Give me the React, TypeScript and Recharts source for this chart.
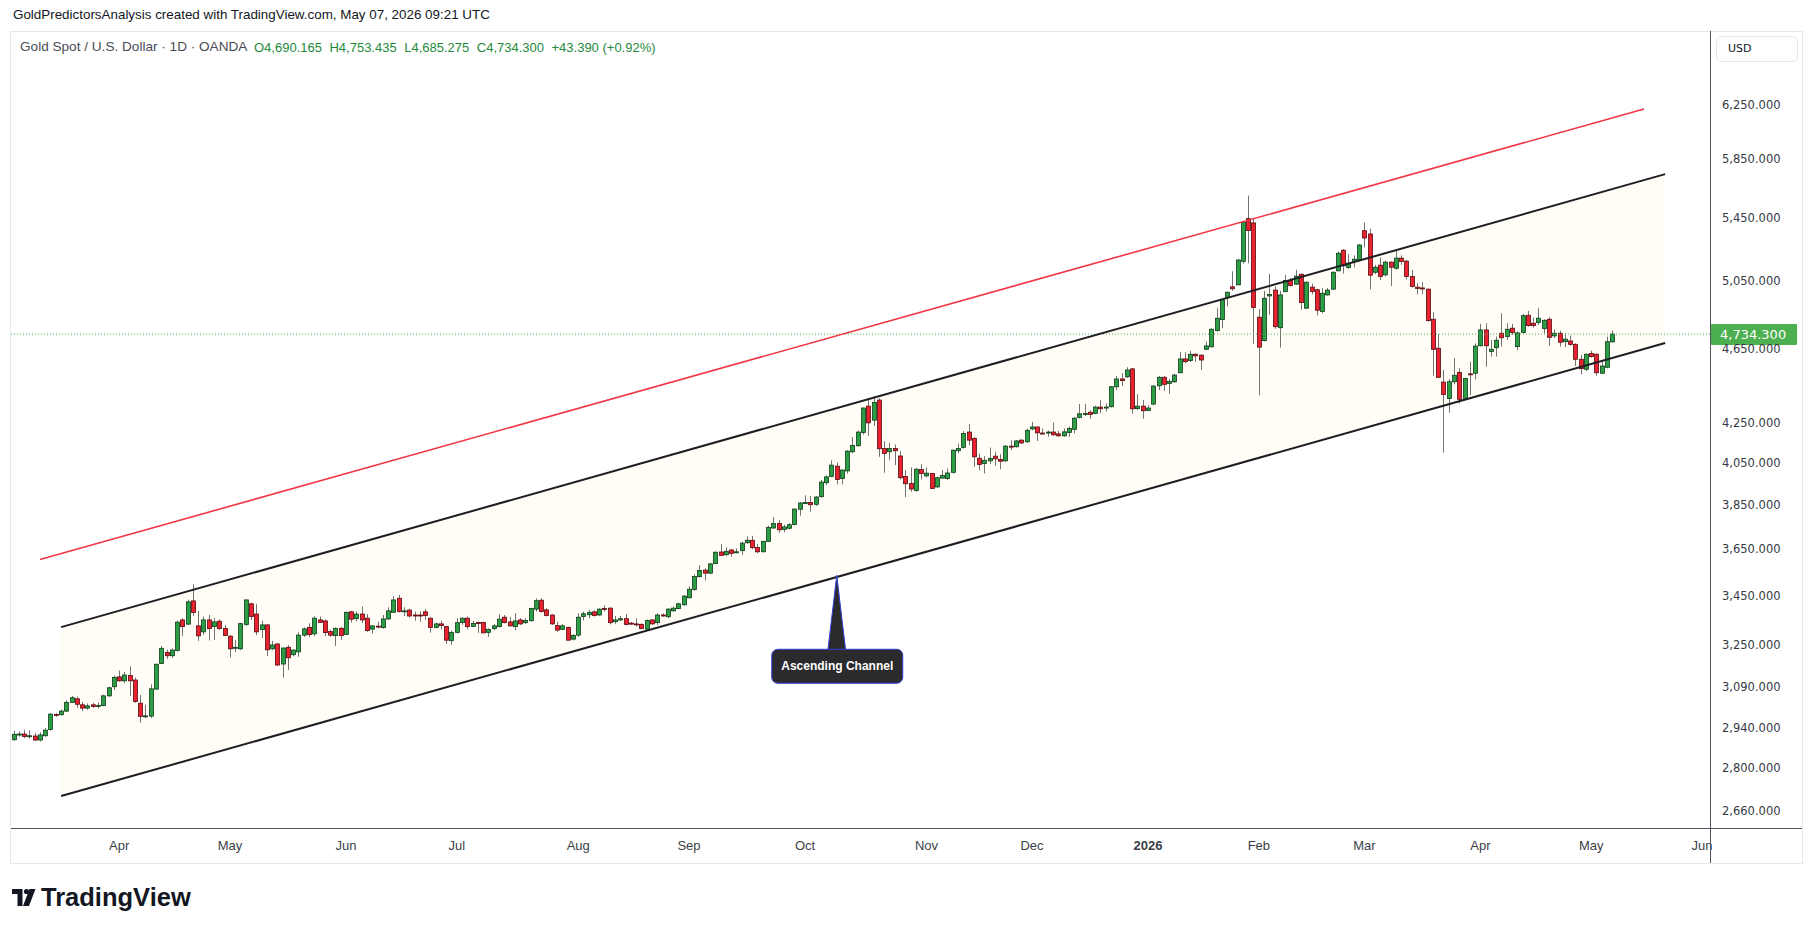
import { ComposedChart, Bar, Area, XAxis, YAxis, ReferenceLine, ReferenceDot } from "recharts"

// [day, open, high, low, close]
type Row = [number, number, number, number, number]

const mar2025: Row[] = [
  [4, 2898, 2929, 2894, 2917], [5, 2916, 2927, 2909, 2918], [6, 2918, 2933, 2903, 2909], [7, 2910, 2931, 2902, 2912],
  [10, 2911, 2922, 2893, 2897], [11, 2897, 2924, 2892, 2915], [12, 2912, 2939, 2908, 2932], [13, 2934, 2993, 2930, 2989],
  [14, 2988, 2993, 2980, 2986], [17, 2987, 3006, 2984, 3000], [18, 3000, 3040, 2997, 3032], [19, 3032, 3056, 3030, 3049],
  [20, 3045, 3053, 3012, 3025], [21, 3023, 3034, 3000, 3011], [24, 3011, 3028, 3005, 3019], [25, 3023, 3030, 3012, 3017],
  [26, 3018, 3032, 3010, 3021], [27, 3020, 3060, 3018, 3056], [28, 3056, 3090, 3052, 3086], [31, 3090, 3132, 3078, 3125],
]
const apr2025: Row[] = [
  [1, 3127, 3151, 3108, 3112], [2, 3112, 3146, 3103, 3134], [3, 3132, 3167, 3056, 3112], [4, 3115, 3124, 3030, 3035],
  [7, 3029, 3059, 2958, 2981], [8, 2981, 3023, 2975, 2983], [9, 2982, 3099, 2975, 3082], [10, 3081, 3178, 3079, 3175],
  [11, 3178, 3246, 3176, 3237], [14, 3221, 3232, 3196, 3208], [15, 3208, 3236, 3200, 3230], [16, 3229, 3348, 3224, 3341],
  [17, 3350, 3357, 3285, 3323], [21, 3333, 3433, 3330, 3424], [22, 3428, 3498, 3366, 3380], [23, 3326, 3387, 3266, 3286],
  [24, 3302, 3364, 3290, 3350], [25, 3350, 3370, 3268, 3315], [28, 3323, 3357, 3270, 3342], [29, 3345, 3352, 3310, 3315],
  [30, 3316, 3330, 3285, 3288],
]
const may2025: Row[] = [
  [1, 3285, 3288, 3201, 3235], [2, 3238, 3270, 3223, 3241], [5, 3235, 3338, 3230, 3335], [6, 3332, 3435, 3326, 3432],
  [7, 3416, 3421, 3350, 3364], [8, 3374, 3416, 3289, 3302], [9, 3311, 3346, 3277, 3330], [12, 3330, 3332, 3207, 3231],
  [13, 3235, 3266, 3230, 3250], [14, 3254, 3256, 3170, 3172], [15, 3176, 3241, 3124, 3238], [16, 3241, 3250, 3153, 3200],
  [19, 3212, 3233, 3205, 3230], [20, 3223, 3300, 3204, 3289], [21, 3289, 3320, 3282, 3314], [22, 3320, 3336, 3281, 3291],
  [23, 3294, 3365, 3285, 3357], [26, 3350, 3364, 3340, 3340], [27, 3346, 3352, 3285, 3299], [28, 3303, 3310, 3282, 3289],
  [29, 3287, 3320, 3246, 3316], [30, 3316, 3322, 3270, 3287],
]
const jun2025: Row[] = [
  [2, 3292, 3384, 3290, 3381], [3, 3383, 3387, 3339, 3353], [4, 3355, 3385, 3344, 3374], [5, 3374, 3405, 3337, 3350],
  [6, 3357, 3374, 3302, 3307], [9, 3313, 3330, 3296, 3326], [10, 3325, 3343, 3316, 3323], [11, 3319, 3370, 3315, 3354],
  [12, 3354, 3402, 3350, 3387], [13, 3381, 3448, 3380, 3432], [16, 3439, 3453, 3380, 3384], [17, 3384, 3402, 3366, 3387],
  [18, 3390, 3396, 3360, 3366], [19, 3370, 3384, 3347, 3369], [20, 3370, 3385, 3343, 3368], [23, 3383, 3394, 3350, 3368],
  [24, 3357, 3361, 3299, 3320], [25, 3320, 3339, 3316, 3334], [26, 3334, 3347, 3312, 3327], [27, 3323, 3326, 3254, 3269],
  [30, 3267, 3307, 3250, 3300],
]
const jul2025: Row[] = [
  [1, 3300, 3357, 3296, 3339], [2, 3339, 3360, 3330, 3357], [3, 3357, 3364, 3312, 3323], [4, 3324, 3346, 3322, 3336],
  [7, 3340, 3343, 3298, 3336], [8, 3340, 3343, 3296, 3298], [9, 3300, 3316, 3282, 3312], [10, 3315, 3333, 3309, 3326],
  [11, 3323, 3373, 3320, 3353], [14, 3361, 3370, 3336, 3339], [15, 3342, 3361, 3323, 3326], [16, 3323, 3378, 3309, 3346],
  [17, 3350, 3357, 3330, 3334], [18, 3339, 3357, 3334, 3348], [21, 3347, 3400, 3343, 3397], [22, 3394, 3439, 3384, 3429],
  [23, 3431, 3439, 3380, 3384], [24, 3391, 3398, 3364, 3368], [25, 3370, 3373, 3330, 3334], [28, 3327, 3343, 3302, 3309],
  [29, 3312, 3333, 3309, 3326], [30, 3320, 3323, 3268, 3269], [31, 3273, 3292, 3268, 3288],
]
const aug2025: Row[] = [
  [1, 3289, 3377, 3282, 3361], [4, 3364, 3384, 3348, 3375], [5, 3371, 3391, 3357, 3381], [6, 3383, 3389, 3364, 3368],
  [7, 3370, 3397, 3367, 3394], [8, 3397, 3410, 3384, 3395], [11, 3398, 3402, 3332, 3339], [12, 3343, 3366, 3334, 3350],
  [13, 3350, 3366, 3346, 3355], [14, 3355, 3374, 3328, 3332], [15, 3337, 3342, 3330, 3336], [18, 3334, 3357, 3323, 3333],
  [19, 3332, 3336, 3312, 3315], [20, 3313, 3352, 3309, 3348], [21, 3350, 3353, 3330, 3334], [22, 3339, 3377, 3330, 3370],
  [25, 3370, 3377, 3363, 3368], [26, 3363, 3398, 3357, 3394], [27, 3387, 3405, 3383, 3398], [28, 3396, 3421, 3394, 3416],
  [29, 3412, 3453, 3408, 3448],
]
const sep2025: Row[] = [
  [1, 3441, 3490, 3438, 3477], [2, 3476, 3540, 3470, 3531], [3, 3530, 3580, 3527, 3557], [4, 3558, 3566, 3514, 3545],
  [5, 3545, 3590, 3542, 3585], [8, 3586, 3639, 3585, 3636], [9, 3637, 3672, 3620, 3622], [10, 3625, 3658, 3620, 3640],
  [11, 3646, 3649, 3616, 3631], [12, 3636, 3653, 3631, 3638], [15, 3643, 3683, 3624, 3676], [16, 3678, 3706, 3673, 3689],
  [17, 3689, 3709, 3649, 3656], [18, 3657, 3673, 3631, 3638], [19, 3638, 3687, 3635, 3684], [22, 3684, 3754, 3681, 3747],
  [23, 3744, 3794, 3741, 3765], [24, 3765, 3780, 3722, 3736], [25, 3738, 3759, 3725, 3749], [26, 3743, 3767, 3738, 3759],
  [29, 3760, 3834, 3757, 3831], [30, 3830, 3864, 3800, 3859],
]
const oct2025: Row[] = [
  [1, 3858, 3895, 3855, 3861], [2, 3862, 3892, 3819, 3851], [3, 3853, 3892, 3846, 3887], [6, 3889, 3968, 3884, 3958],
  [7, 3955, 3990, 3943, 3983], [8, 3985, 4064, 3982, 4040], [9, 4035, 4053, 3947, 3971], [10, 3975, 4020, 3947, 4016],
  [13, 4012, 4114, 3999, 4109], [14, 4106, 4180, 4098, 4138], [15, 4136, 4213, 4131, 4205], [16, 4203, 4332, 4193, 4329],
  [17, 4339, 4379, 4186, 4252], [20, 4266, 4390, 4236, 4359], [21, 4371, 4381, 4081, 4121], [22, 4122, 4159, 4003, 4097],
  [23, 4106, 4152, 4064, 4122], [24, 4122, 4142, 4040, 4111], [27, 4085, 4109, 3971, 3979], [28, 3985, 4016, 3887, 3950],
  [29, 3951, 4029, 3912, 3925], [30, 3918, 4027, 3912, 4020], [31, 4019, 4045, 3971, 3999],
]
const nov2025: Row[] = [
  [3, 3988, 4028, 3980, 4001], [4, 4000, 4002, 3925, 3928], [5, 3935, 3983, 3930, 3979], [6, 3977, 4016, 3975, 3990],
  [7, 3975, 4024, 3967, 4002], [10, 4005, 4117, 4000, 4114], [11, 4111, 4147, 4098, 4122], [12, 4128, 4210, 4122, 4198],
  [13, 4205, 4247, 4138, 4164], [14, 4173, 4180, 4032, 4081], [17, 4074, 4097, 4015, 4043], [18, 4048, 4084, 4000, 4064],
  [19, 4061, 4127, 4045, 4073], [20, 4084, 4106, 4037, 4071], [21, 4068, 4094, 4020, 4059], [24, 4061, 4139, 4056, 4134],
  [25, 4134, 4164, 4114, 4131], [26, 4131, 4164, 4127, 4160], [27, 4164, 4169, 4144, 4150], [28, 4156, 4223, 4150, 4214],
]
const dec2025: Row[] = [
  [1, 4221, 4257, 4214, 4231], [2, 4231, 4233, 4160, 4201], [3, 4200, 4223, 4194, 4199], [4, 4202, 4213, 4181, 4205],
  [5, 4205, 4254, 4186, 4191], [8, 4196, 4211, 4181, 4186], [9, 4186, 4223, 4181, 4206], [10, 4203, 4234, 4181, 4223],
  [11, 4219, 4283, 4198, 4276], [12, 4280, 4350, 4275, 4299], [15, 4299, 4350, 4287, 4301], [16, 4307, 4318, 4273, 4296],
  [17, 4301, 4341, 4297, 4334], [18, 4334, 4371, 4301, 4325], [19, 4331, 4353, 4311, 4334], [22, 4336, 4446, 4332, 4442],
  [23, 4442, 4500, 4424, 4484], [24, 4484, 4516, 4446, 4475], [26, 4496, 4548, 4490, 4533], [29, 4539, 4544, 4299, 4325],
  [30, 4326, 4402, 4318, 4339], [31, 4339, 4371, 4273, 4315],
]
const jan2026: Row[] = [
  [2, 4316, 4344, 4313, 4329], [5, 4350, 4450, 4343, 4446], [6, 4447, 4500, 4424, 4493], [7, 4493, 4500, 4420, 4455],
  [8, 4460, 4484, 4404, 4471], [9, 4469, 4513, 4462, 4505], [12, 4518, 4633, 4515, 4594], [13, 4594, 4631, 4570, 4579],
  [14, 4585, 4639, 4577, 4620], [15, 4620, 4626, 4579, 4611], [16, 4615, 4620, 4533, 4588], [19, 4648, 4692, 4644, 4667],
  [20, 4662, 4768, 4658, 4762], [21, 4754, 4885, 4749, 4826], [22, 4818, 4938, 4768, 4934], [23, 4948, 4984, 4895, 4980],
  [26, 5013, 5108, 4988, 5001], [27, 5025, 5186, 5021, 5178], [28, 5170, 5422, 5154, 5418], [29, 5444, 5598, 5158, 5366],
  [30, 5416, 5449, 4678, 4889],
]
const feb2026: Row[] = [
  [2, 4832, 4880, 4397, 4660], [3, 4697, 4988, 4692, 4944], [4, 4958, 5092, 4846, 4966], [5, 4993, 5015, 4764, 4777],
  [6, 4771, 4988, 4657, 4964], [9, 4984, 5086, 4980, 5051], [10, 5051, 5066, 5015, 5021], [11, 5029, 5117, 5025, 5078],
  [12, 5090, 5094, 4876, 4918], [13, 4885, 5045, 4881, 5041], [16, 5011, 5031, 4968, 4984], [17, 4995, 5001, 4842, 4873],
  [18, 4865, 5005, 4855, 4974], [19, 4964, 5005, 4960, 4993], [20, 4999, 5107, 4993, 5102], [23, 5111, 5232, 5107, 5221],
  [24, 5240, 5247, 5094, 5142], [25, 5131, 5215, 5123, 5158], [26, 5169, 5207, 5131, 5183], [27, 5177, 5279, 5169, 5273],
]
const mar2026: Row[] = [
  [2, 5365, 5418, 5258, 5318], [3, 5344, 5379, 4997, 5084], [4, 5102, 5148, 5090, 5133], [5, 5146, 5194, 5053, 5076],
  [6, 5086, 5174, 5076, 5165], [9, 5165, 5169, 5017, 5133], [10, 5127, 5243, 5117, 5190], [11, 5190, 5207, 5148, 5169],
  [12, 5171, 5179, 5058, 5076], [13, 5076, 5117, 5009, 5015], [16, 5011, 5035, 4968, 5003], [17, 5006, 5041, 4968, 5003],
  [18, 4999, 5001, 4806, 4812], [19, 4820, 4861, 4502, 4648], [20, 4654, 4733, 4488, 4493], [23, 4467, 4533, 4102, 4400],
  [24, 4379, 4484, 4305, 4469], [25, 4469, 4599, 4455, 4504], [26, 4520, 4542, 4353, 4375], [27, 4380, 4492, 4375, 4487],
  [30, 4512, 4579, 4397, 4508], [31, 4515, 4681, 4482, 4666],
]
const apr2026: Row[] = [
  [1, 4668, 4793, 4664, 4758], [2, 4758, 4797, 4551, 4668], [6, 4635, 4701, 4607, 4648], [7, 4657, 4720, 4607, 4699],
  [8, 4739, 4855, 4663, 4713], [9, 4720, 4797, 4701, 4762], [10, 4768, 4793, 4729, 4743], [13, 4663, 4749, 4644, 4741],
  [14, 4743, 4851, 4739, 4841], [15, 4843, 4869, 4777, 4783], [16, 4797, 4830, 4772, 4783], [17, 4801, 4885, 4787, 4826],
  [20, 4766, 4820, 4739, 4814], [21, 4820, 4832, 4668, 4716], [22, 4724, 4762, 4711, 4739], [23, 4739, 4754, 4663, 4688],
  [24, 4691, 4739, 4660, 4705], [27, 4695, 4726, 4668, 4676], [28, 4676, 4682, 4555, 4592], [29, 4592, 4616, 4509, 4540],
  [30, 4537, 4625, 4527, 4620],
]
const may2026: Row[] = [
  [1, 4625, 4640, 4601, 4607], [4, 4620, 4625, 4502, 4518], [5, 4515, 4579, 4511, 4555], [6, 4548, 4720, 4542, 4690.91],
  [7, 4690.165, 4753.435, 4685.275, 4734.3],
]

const months: { year: number; month: number; rows: Row[] }[] = [
  { year: 2025, month: 3, rows: mar2025 }, { year: 2025, month: 4, rows: apr2025 },
  { year: 2025, month: 5, rows: may2025 }, { year: 2025, month: 6, rows: jun2025 },
  { year: 2025, month: 7, rows: jul2025 }, { year: 2025, month: 8, rows: aug2025 },
  { year: 2025, month: 9, rows: sep2025 }, { year: 2025, month: 10, rows: oct2025 },
  { year: 2025, month: 11, rows: nov2025 }, { year: 2025, month: 12, rows: dec2025 },
  { year: 2026, month: 1, rows: jan2026 }, { year: 2026, month: 2, rows: feb2026 },
  { year: 2026, month: 3, rows: mar2026 }, { year: 2026, month: 4, rows: apr2026 },
  { year: 2026, month: 5, rows: may2026 },
]

// empty sessions to the right of the last bar
const futureDates = [
  "2026-05-08", "2026-05-11", "2026-05-12", "2026-05-13", "2026-05-14", "2026-05-15", "2026-05-18", "2026-05-19",
  "2026-05-20", "2026-05-21", "2026-05-22", "2026-05-25", "2026-05-26", "2026-05-27", "2026-05-28", "2026-05-29",
  "2026-06-01", "2026-06-02",
]

const monthTicks = [
  "2025-04-01", "2025-05-01", "2025-06-02", "2025-07-01", "2025-08-01", "2025-09-01", "2025-10-01", "2025-11-03",
  "2025-12-01", "2026-01-02", "2026-02-02", "2026-03-02", "2026-04-01", "2026-05-01", "2026-06-01",
]
const monthNames = ["Jan", "Feb", "Mar", "Apr", "May", "Jun", "Jul", "Aug", "Sep", "Oct", "Nov", "Dec"]

const priceTicks = [2660, 2800, 2940, 3090, 3250, 3450, 3650, 3850, 4050, 4250, 4650, 5050, 5450, 5850, 6250]
const priceDomain = [2604.4, 6831.5]
const lastPrice = 4734.3
const legendValues = ["O4,690.165", "H4,753.435", "L4,685.275", "C4,734.300", "+43.390 (+0.92%)"]

// drawing anchors: [date, price]
const channelUpper: [string, number][] = [["2025-03-17", 3321], ["2026-05-21", 5745]]
const channelLower: [string, number][] = [["2025-03-17", 2707], ["2026-05-21", 4683]]
const redLine: [string, number][] = [["2025-03-11", 3604], ["2026-05-15", 6216]]
const calloutAnchor: [string, number] = ["2025-10-09", 3536]

const pad = (n: number) => String(n).padStart(2, "0")

type Point = { date: string; o?: number; h?: number; l?: number; c?: number; range?: [number, number]; band?: [number, number] }

const data: Point[] = []
months.forEach(({ year, month, rows }) => {
  rows.forEach(([d, o, h, l, c]) => {
    data.push({ date: `${year}-${pad(month)}-${pad(d)}`, o, h, l, c, range: [l, h] })
  })
})
futureDates.forEach((date) => data.push({ date }))
channelLower.forEach(([date, lo], k) => {
  const p = data.find((r) => r.date === date)
  if (p) p.band = [lo, channelUpper[k][1]]
})

const UP = "#2a9d45"
const UP_EDGE = "#0f3d1a"
const DOWN = "#e8222f"
const DOWN_EDGE = "#5a0a0e"
const WICK = "#737373"

const Candle = (props: any) => {
  const { x, y, width, height, payload } = props
  if (!payload || payload.o == null) return null
  const { o, h, l, c } = payload
  const lh = Math.log(h)
  const span = lh - Math.log(l) || 1
  const toY = (v: number) => y + (height * (lh - Math.log(v))) / span
  const cx = Math.round(x + width / 2) + 0.5
  const up = c >= o
  const top = toY(Math.max(o, c))
  const bot = toY(Math.min(o, c))
  return (
    <g>
      <line x1={cx} x2={cx} y1={y} y2={y + height} stroke={WICK} strokeWidth={1} />
      <rect
        x={cx - 2}
        y={top}
        width={4}
        height={Math.max(bot - top, 1)}
        fill={up ? UP : DOWN}
        stroke={up ? UP_EDGE : DOWN_EDGE}
        strokeWidth={0.8}
      />
    </g>
  )
}

const PriceTick = (props: any) => {
  const { x, y, payload } = props
  return (
    <text x={x + 4} y={y} dy={4} fontSize={11.5} fontFamily="DejaVu Sans" fill="#363a45">
      {payload.value.toLocaleString("en-US", { minimumFractionDigits: 3, maximumFractionDigits: 3 })}
    </text>
  )
}

const MonthTick = (props: any) => {
  const { x, y, payload } = props
  const [yy, mm] = payload.value.split("-").map(Number)
  const isYear = mm === 1
  return (
    <text
      x={x}
      y={y + 14}
      textAnchor="middle"
      fontSize={13}
      fontFamily="Liberation Sans"
      fontWeight={isYear ? 700 : 400}
      fill="#3c3f48"
    >
      {isYear ? String(yy) : monthNames[mm - 1]}
    </text>
  )
}

const LastPriceLabel = (props: any) => {
  const { viewBox } = props
  if (!viewBox) return null
  const lx = viewBox.x + viewBox.width + 1
  return (
    <g>
      <rect x={lx} y={viewBox.y - 10} width={86} height={21} fill="#4caf50" rx={1} />
      <text x={lx + 9} y={viewBox.y + 5} fontSize={13} fontFamily="DejaVu Sans" fill="#ffffff">
        {lastPrice.toLocaleString("en-US", { minimumFractionDigits: 3 })}
      </text>
    </g>
  )
}

const Callout = (props: any) => {
  const { cx, cy } = props
  if (cx == null || cy == null) return null
  return (
    <g>
      <path
        d={`M ${cx} ${cy} L ${cx + 9} ${cy + 76} L ${cx - 9} ${cy + 76} Z`}
        fill="#2b2b2e"
        stroke="#2f3fd6"
        strokeWidth={1}
      />
      <rect x={cx - 65} y={cy + 74} width={131} height={34} rx={6} fill="#2b2b2e" stroke="#2f3fd6" strokeWidth={1} />
      <text
        x={cx + 0.5}
        y={cy + 95}
        textAnchor="middle"
        fontSize={12}
        fontWeight={700}
        fontFamily="Liberation Sans"
        fill="#ffffff"
      >
        Ascending Channel
      </text>
    </g>
  )
}

export default function App() {
  return (
    <div
      style={{
        position: "absolute",
        left: 0,
        top: 0,
        width: 1814,
        height: 932,
        background: "#ffffff",
        fontFamily: "Liberation Sans, Arial, sans-serif",
        overflow: "hidden",
      }}
    >
      <div style={{ position: "absolute", left: 13, top: 7, fontSize: 13.4, color: "#131722" }}>
        GoldPredictorsAnalysis created with TradingView.com, May 07, 2026 09:21 UTC
      </div>

      {/* chart frame */}
      <div style={{ position: "absolute", left: 10, top: 31, width: 1791, height: 831, border: "1px solid #e6e8ee" }} />

      <div style={{ position: "absolute", left: 11, top: 31 }}>
        <ComposedChart width={1791} height={832} data={data} margin={{ top: 0, right: 0, bottom: 0, left: 0 }} barCategoryGap="10%">
          <XAxis
            dataKey="date"
            ticks={monthTicks}
            interval={0}
            height={35}
            tickLine={false}
            axisLine={false}
            tick={<MonthTick />}
          />
          <YAxis
            orientation="right"
            type="number"
            scale="log"
            domain={priceDomain}
            allowDataOverflow
            ticks={priceTicks}
            width={92}
            tickLine={false}
            axisLine={false}
            tickSize={6}
            tick={<PriceTick />}
          />
          <Area
            dataKey="band"
            type="linear"
            connectNulls
            fill="#fffdf6"
            fillOpacity={1}
            stroke="none"
            dot={false}
            activeDot={false}
            isAnimationActive={false}
          />
          <ReferenceLine
            y={lastPrice}
            stroke="#4caf50"
            strokeDasharray="1 2"
            strokeWidth={1}
            label={<LastPriceLabel />}
          />
          <Bar dataKey="range" shape={<Candle />} isAnimationActive={false} />
          <ReferenceLine
            segment={[{ x: channelUpper[0][0], y: channelUpper[0][1] }, { x: channelUpper[1][0], y: channelUpper[1][1] }]}
            stroke="#1e1e22"
            strokeWidth={2}
          />
          <ReferenceLine
            segment={[{ x: channelLower[0][0], y: channelLower[0][1] }, { x: channelLower[1][0], y: channelLower[1][1] }]}
            stroke="#1e1e22"
            strokeWidth={2}
          />
          <ReferenceLine
            segment={[{ x: redLine[0][0], y: redLine[0][1] }, { x: redLine[1][0], y: redLine[1][1] }]}
            stroke="#f23645"
            strokeWidth={1.6}
          />
          <ReferenceDot x={calloutAnchor[0]} y={calloutAnchor[1]} r={0} shape={<Callout />} />
        </ComposedChart>
      </div>

      {/* pane separators */}
      <div style={{ position: "absolute", left: 11, top: 828, width: 1791, height: 1, background: "#50535e" }} />
      <div style={{ position: "absolute", left: 1710, top: 31, width: 1, height: 832, background: "#50535e" }} />

      {/* legend */}
      <div style={{ position: "absolute", left: 20, top: 39, fontSize: 13.6, color: "#4a4d57", whiteSpace: "nowrap" }}>
        Gold Spot / U.S. Dollar · 1D · OANDA
      </div>
      <div style={{ position: "absolute", left: 254, top: 40, fontSize: 13, color: "#1e8a3c", whiteSpace: "nowrap" }}>
        {legendValues.map((v, k) => (
          <span key={v} style={{ marginLeft: k === 0 ? 0 : 7.5 }}>
            {v}
          </span>
        ))}
      </div>

      <div
        style={{
          position: "absolute",
          left: 1716,
          top: 36,
          width: 82,
          height: 26,
          border: "1px solid #e6e8ee",
          borderRadius: 5,
          boxSizing: "border-box",
          fontSize: 11,
          fontFamily: "DejaVu Sans",
          color: "#131722",
          lineHeight: "24px",
          paddingLeft: 11,
        }}
      >
        USD
      </div>

      {/* brand mark */}
      <svg style={{ position: "absolute", left: 12, top: 884 }} width={200} height={30}>
        <path d="M0 5 H10.5 V22 H5.5 V10 H0 Z" fill="#131722" />
        <circle cx={14.5} cy={7.5} r={2.6} fill="#131722" />
        <path d="M17.5 5 H23.5 L17 22 H11 Z" fill="#131722" />
        <text x={29} y={22} fontSize={25.5} fontWeight={700} fontFamily="Liberation Sans" fill="#131722">
          TradingView
        </text>
      </svg>
    </div>
  )
}
